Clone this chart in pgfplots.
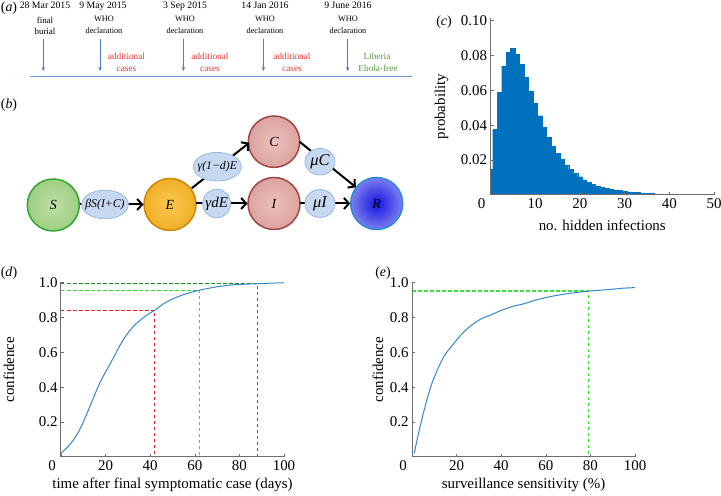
\documentclass[border=0pt]{standalone}
\usepackage{pgfplots}
\pgfplotsset{compat=1.18}
\usepackage{fontspec}
\setmainfont{Liberation Serif}
\usetikzlibrary{arrows.meta}

\definecolor{histblue}{RGB}{0,114,189}
\definecolor{curveblue}{RGB}{55,135,200}
\definecolor{axgray}{RGB}{110,110,110}
\definecolor{dred}{RGB}{235,35,35}
\definecolor{lgreen}{RGB}{50,225,50}
\definecolor{dgreen}{RGB}{25,145,25}
\definecolor{tlblue}{RGB}{80,125,200}
\definecolor{tlline}{RGB}{100,145,215}
\definecolor{redtext}{RGB}{235,50,50}
\definecolor{greentext}{RGB}{95,150,65}
\definecolor{ellfill}{RGB}{198,217,241}
\definecolor{elldraw}{RGB}{150,185,225}
\definecolor{Sin}{RGB}{190,222,165}
\definecolor{Sout}{RGB}{125,192,95}
\definecolor{Sborder}{RGB}{50,165,50}
\definecolor{Ein}{RGB}{250,200,80}
\definecolor{Eout}{RGB}{228,150,0}
\definecolor{Eborder}{RGB}{210,135,0}
\definecolor{CIin}{RGB}{236,192,188}
\definecolor{CIout}{RGB}{205,135,130}
\definecolor{CIborder}{RGB}{160,70,70}
\definecolor{Rin}{RGB}{20,20,225}
\definecolor{Rout}{RGB}{228,232,255}
\definecolor{Rborder}{RGB}{40,140,210}

\pgfdeclareradialshading{shS}{\pgfpointorigin}{color(0bp)=(Sin); color(50bp)=(Sout); color(72bp)=(Sout)}
\pgfdeclareradialshading{shE}{\pgfpointorigin}{color(0bp)=(Ein); color(50bp)=(Eout); color(72bp)=(Eout)}
\pgfdeclareradialshading{shCI}{\pgfpointorigin}{color(0bp)=(CIin); color(50bp)=(CIout); color(72bp)=(CIout)}
\pgfdeclareradialshading{shR}{\pgfpointorigin}{color(0bp)=(Rin); color(50bp)=(Rout); color(72bp)=(Rout)}

\newcommand{\fs}{\fontsize{15}{16}\selectfont}
\newcommand{\ft}{\fontsize{9.3}{10}\selectfont}
\newcommand{\fdate}{\fontsize{9.8}{10}\selectfont}
\newcommand{\fwho}{\fontsize{8.3}{9}\selectfont}
\newcommand{\ffin}{\fontsize{9}{10}\selectfont}

\pgfplotsset{
  panel/.style={
    scale only axis,
    axis lines=left,
    axis line style={draw=axgray, line width=1bp, -},
    tick align=inside,
    tick style={draw=axgray, line width=0.6bp},
    major tick length=3bp,
    tick label style={font=\fs},
    label style={font=\fs},
    enlargelimits=false,
    /pgf/number format/assume math mode=true,
  },
  dashline/.style={line width=1.25bp, dash pattern=on 3.5bp off 2.5bp},
}

\pgfplotstableread{
x y
-0.5 0.0147
0.5 0.0377
1.5 0.0590
2.5 0.0740
3.5 0.0818
4.5 0.0840
5.5 0.0806
6.5 0.0750
7.5 0.0675
8.5 0.0597
9.5 0.0525
10.5 0.0455
11.5 0.0388
12.5 0.0330
13.5 0.0282
14.5 0.0238
15.5 0.0203
16.5 0.0172
17.5 0.0147
18.5 0.0124
19.5 0.0105
20.5 0.0087
21.5 0.0073
22.5 0.0062
23.5 0.0052
24.5 0.0044
25.5 0.0038
26.5 0.0033
27.5 0.0029
28.5 0.0025
29.5 0.0021
30.5 0.0018
31.5 0.0016
32.5 0.0014
33.5 0.0012
34.5 0.0010
35.5 0.0009
36.5 0.0007
37.5 0.0006
38.5 0.0005
39.5 0.0004
40.5 0.00035
41.5 0.0003
42.5 0.00025
43.5 0.0002
44.5 0.00017
45.5 0.00014
46.5 0.00012
47.5 0.0001
48.5 0.00008
49.5 0.00007
50.5 0.00007
}\histdata

\begin{document}
\begin{tikzpicture}[x=1bp,y=1bp]
\useasboundingbox (0,0) rectangle (721,496);

% ---------------- (a) timeline ----------------
\node[font=\fontsize{14}{14}\selectfont, anchor=base] at (9,484.3) {(\textit{a})};
\draw[tlline, line width=1.2bp] (30,419.3) -- (412,419.3);
\foreach \xx in {43.3,100,183.3,263.3,347.7}{
  \draw[tlblue, line width=1bp, -{Stealth[length=4bp,width=3.5bp]}] (\xx,457) -- (\xx,425);
}
\node[font=\fdate, anchor=base] at (45,487.7) {28 Mar 2015};
\node[font=\fdate, anchor=base] at (103,487.7) {9 May 2015};
\node[font=\fdate, anchor=base] at (185,487.7) {3 Sep 2015};
\node[font=\fdate, anchor=base] at (265,487.7) {14 Jan 2016};
\node[font=\fdate, anchor=base] at (348,487.7) {9 June 2016};
\node[font=\ffin, anchor=base] at (45,472) {final};
\node[font=\ffin, anchor=base] at (45,461) {burial};
\foreach \xx in {104,185,265,348}{
  \node[font=\fwho, anchor=base] at (\xx,474.3) {WHO};
  \node[font=\fwho, anchor=base] at (\xx,462.7) {declaration};
}
\foreach \xx in {126.5,210,292}{
  \node[font=\ft, anchor=base, text=redtext] at (\xx,436.7) {additional};
  \node[font=\ft, anchor=base, text=redtext] at (\xx,424.3) {cases};
}
\node[font=\ft, anchor=base, text=greentext] at (377,436.7) {Liberia};
\node[font=\ft, anchor=base, text=greentext] at (378,424.3) {Ebola-free};

% ---------------- (b) model diagram ----------------
\node[font=\fontsize{14}{14}\selectfont, anchor=base] at (9,387.7) {(\textit{b})};
\shadedraw[shading=shS, draw=Sborder, line width=1.5bp] (53.3,291) circle (26);
\shadedraw[shading=shE, draw=Eborder, line width=1.5bp] (170,291.5) circle (26);
\shadedraw[shading=shCI, draw=CIborder, line width=1.5bp] (274,354.3) circle (25.7);
\shadedraw[shading=shCI, draw=CIborder, line width=1.5bp] (274,292.5) circle (26);
\shadedraw[shading=shR, draw=Rborder, line width=1.5bp] (376.7,292.5) circle (26);
\begin{scope}[line width=2bp, -{Straight Barb[length=5bp,width=11bp]}]
  \draw (79.5,291.5) -- (143.5,291.5);
  \draw (196,292.5) -- (247.5,292.5);
  \draw (300,292.5) -- (350.3,292.5);
  \draw (191.7,307.7) -- (249.3,353.3);
  \draw (299.5,354.3) -- (356,308.7);
\end{scope}
\begin{scope}[fill=ellfill, draw=elldraw, line width=0.8bp]
  \filldraw (105,291.5) ellipse (23.3 and 14.3);
  \filldraw (217.3,329.3) ellipse (24 and 14.3);
  \filldraw (216.7,292.5) ellipse (14 and 14.3);
  \filldraw (320,334.3) ellipse (15 and 13.3);
  \filldraw (320,292.5) ellipse (15 and 14);
\end{scope}
\node[font=\fontsize{14}{14}\selectfont\itshape] at (53.3,291) {S};
\node[font=\fontsize{14}{14}\selectfont\itshape] at (170,291.5) {E};
\node[font=\fontsize{14}{14}\selectfont\itshape] at (274,354.3) {C};
\node[font=\fontsize{14}{14}\selectfont\itshape] at (274,292.5) {I};
\node[font=\fontsize{14}{14}\selectfont\itshape] at (376.7,292.5) {R};
\node[font=\fontsize{11.8}{12}\selectfont\itshape, inner sep=0] at (105,291.5) {βS(I+C)};
\node[font=\fontsize{11.8}{12}\selectfont\itshape, inner sep=0] at (217.3,329.3) {γ(1−d)E};
\node[font=\fontsize{15}{15}\selectfont\itshape, inner sep=0] at (216.7,292.5) {γdE};
\node[font=\fontsize{16.5}{16.5}\selectfont\itshape, inner sep=0] at (320,334.3) {μC};
\node[font=\fontsize{16.5}{16.5}\selectfont\itshape, inner sep=0] at (320,292.5) {μI};

% ---------------- (c) histogram ----------------
\node[font=\fontsize{14}{14}\selectfont, anchor=base] at (444,470) {(\textit{c})};
\begin{axis}[panel, at={(490.5bp,301bp)}, anchor=south west,
  width=223.5bp, height=176.7bp,
  xmin=0, xmax=50, ymin=0, ymax=0.10137,
  xtick={10,20,30,40,50}, extra x ticks={0},
  extra x tick style={xticklabel style={xshift=-9bp}},
  ytick={0.02,0.04,0.06,0.08,0.10},
  scaled y ticks=false,
  yticklabel style={/pgf/number format/.cd, fixed, fixed zerofill, precision=2},
  xlabel={no. hidden infections}, ylabel={probability},
  xlabel style={at={([yshift=-36bp]axis description cs:0.5,0)}, anchor=base},
  ylabel style={at={([xshift=-49bp]axis description cs:0,0.5)}, anchor=center},
  axis on top]
\addplot[const plot mark left, fill=histblue, draw=histblue, line width=0.3bp] table[x=x,y=y]{\histdata} \closedcycle;
\end{axis}

% ---------------- (d) confidence vs time ----------------
\node[font=\fontsize{14}{14}\selectfont, anchor=base] at (9,219.3) {(\textit{d})};
\begin{axis}[panel, at={(61bp,39bp)}, anchor=south west,
  width=223bp, height=174.6bp,
  xmin=0, xmax=100, ymin=0, ymax=1,
  xtick={20,40,60,80,100}, extra x ticks={0},
  extra x tick style={xticklabel style={xshift=-9bp}},
  ytick={0.2,0.4,0.6,0.8,1.0},
  yticklabel style={/pgf/number format/.cd, fixed, fixed zerofill, precision=1},
  xlabel={time after final symptomatic case (days)}, ylabel={confidence},
  xlabel style={at={([yshift=-31.5bp]axis description cs:0.5,0)}, anchor=base},
  ylabel style={at={([xshift=-52bp]axis description cs:0,0.5)}, anchor=center},
  axis on top]
\addplot[color=dred, dashline] coordinates {(0,0.84) (42,0.84) (42,0)};
\addplot[color=lgreen, dashline] coordinates {(0,0.955) (62,0.955) (62,0)};
\addplot[color=dgreen, dashline] coordinates {(0,0.992) (88,0.992) (88,0)};
\addplot[color=curveblue, line width=1bp, smooth] coordinates {
(0,0.021) (3,0.058) (6,0.105) (9,0.172) (12,0.26) (15,0.353) (18,0.44) (21,0.51)
(24,0.58) (27,0.652) (30,0.71) (33,0.755) (36,0.788) (39,0.818) (42,0.84)
(46,0.878) (50,0.905) (55,0.93) (62,0.955) (70,0.975) (77,0.986) (85,0.991)
(88,0.992) (95,0.996) (100,0.998)};
\end{axis}

% ---------------- (e) confidence vs sensitivity ----------------
\node[font=\fontsize{14}{14}\selectfont, anchor=base] at (383,219.3) {(\textit{e})};
\begin{axis}[panel, at={(412bp,39bp)}, anchor=south west,
  width=223bp, height=174.6bp,
  xmin=0, xmax=100, ymin=0, ymax=1,
  xtick={20,40,60,80,100}, extra x ticks={0},
  extra x tick style={xticklabel style={xshift=-9bp}},
  ytick={0.2,0.4,0.6,0.8,1.0},
  yticklabel style={/pgf/number format/.cd, fixed, fixed zerofill, precision=1},
  xlabel={surveillance sensitivity (\%)}, ylabel={confidence},
  xlabel style={at={([yshift=-31.5bp]axis description cs:0.5,0)}, anchor=base},
  ylabel style={at={([xshift=-34bp]axis description cs:0,0.5)}, anchor=center},
  axis on top]
\addplot[color=lgreen, dashline] coordinates {(0,0.95) (79,0.95) (79,0)};
\addplot[color=curveblue, line width=1bp, smooth] coordinates {
(1,0.02) (2.7,0.124) (5.6,0.276) (8.6,0.41) (11.6,0.505) (14.5,0.58) (17.5,0.63)
(20.4,0.676) (23.4,0.718) (26.4,0.752) (30.8,0.79) (35.3,0.813) (39.7,0.838)
(45,0.862) (50,0.877) (55,0.897) (60,0.913) (65,0.926) (70,0.936) (75,0.944)
(79,0.95) (85,0.956) (90,0.961) (95,0.967) (100,0.97)};
\end{axis}
\end{tikzpicture}
\end{document}
